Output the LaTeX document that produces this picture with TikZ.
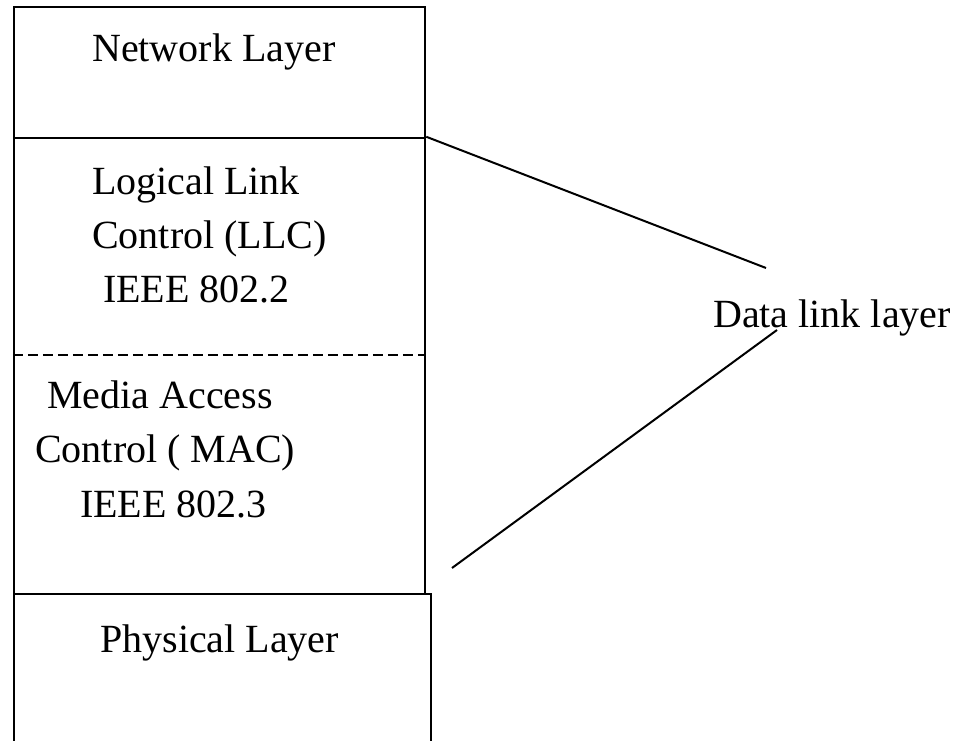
\documentclass[tikz,border=0pt]{standalone}
\usepackage{fontspec}
\setmainfont{Liberation Serif}
\usepackage{tikz}

\begin{document}
\begin{tikzpicture}[x=1pt,y=-1pt]
        \tikzset{
        layer/.style={rectangle, draw, line width=2.5pt, inner sep=0pt, minimum width=411pt},
        lbl/.style={anchor=base west, inner sep=0pt, font=\fontsize{40}{54}\selectfont},
        brace/.style={-, line width=2pt},
        sep/.style={line width=2pt, dash pattern=on 10pt off 5pt},
        }
        \useasboundingbox (0,0) rectangle (953,741);

        \node[layer, minimum height=131pt] (net) at (219.5,72.5) {};
        \node[layer, minimum height=456pt] (dll) at (219.5,366) {};
        \draw[line width=2.5pt] (14,745) |- (431,594) -- (431,745);

        \node[lbl] (netlbl) at (92,62) {Network Layer};
        \node[lbl] (llc1) at (92,194) {Logical Link};
        \node[lbl] (llc2) at (92,248) {Control (LLC)};
        \node[lbl] (llc3) at (103,302) {IEEE 802.2};
        \node[lbl] (mac1) at (47,408) {Media Access};
        \node[lbl] (mac2) at (35,462) {Control ( MAC)};
        \node[lbl] (mac3) at (80,517) {IEEE 802.3};
        \node[lbl] (phylbl) at (100,652) {Physical Layer};
        \node[lbl] (dlllbl) at (713,327) {Data link layer};

        \draw[sep] (dll.west |- 0,355) -- (dll.east |- 0,355);

        \coordinate (up) at (766,268);
        \coordinate (low) at (452,568);
        \coordinate (tip) at (777,330);
        \draw[brace] (dll.north east) -- (up);
        \draw[brace] (low) -- (tip);
\end{tikzpicture}
\end{document}
